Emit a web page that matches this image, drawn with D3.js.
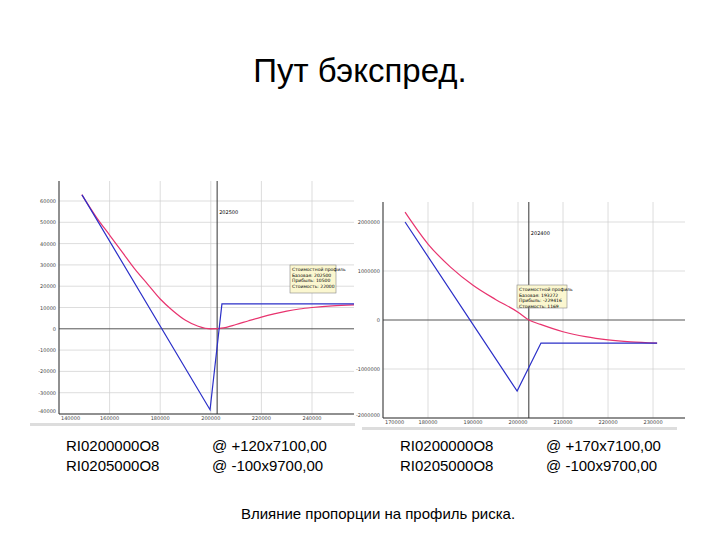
<!DOCTYPE html>
<html><head><meta charset="utf-8">
<script src="https://cdn.jsdelivr.net/npm/d3@7"></script>
<style>body{margin:0;background:#fff}svg{display:block}</style></head>
<body><svg id="c" width="720" height="540"></svg>
<script>
// Left chart data
const leftXTicks=[140000,160000,180000,200000,220000,240000];
const leftYTicks=[-40000,-30000,-20000,-10000,0,10000,20000,30000,40000,50000,60000];
const leftBlueX=[149100,199700,204400,256600];
const leftBlueY=[62900,-38000,11700,11700];
const leftRedX=[149000,155000,160000,165000,170000,175000,180000,185000,190000,195000,200000,205000,210000,215000,220000,225000,230000,235000,240000,248000,256600];
const leftRedY=[63000,52000,44000,36000,28000,21000,14000,8500,4000,1200,0,400,2000,3800,5500,7000,8300,9300,10000,10800,11200];
const leftSpot=202500;
// Right chart data
const rightXTicks=[170000,180000,190000,200000,210000,220000,230000];
const rightYTicks=[-2000000,-1000000,0,1000000,2000000];
const rightBlueX=[174900,199800,205100,230900];
const rightBlueY=[2000000,-1450000,-470000,-470000];
const rightRedX=[174900,180000,185000,190000,195000,200000,202400,205000,210000,215000,220000,225000,230900];
const rightRedY=[2200000,1550000,1080000,710000,420000,160000,0,-90000,-240000,-340000,-405000,-445000,-470000];
const rightSpot=202400;

const svg=d3.select("#c");
svg.append("text").attr("x",360).attr("y",82).attr("text-anchor","middle")
  .attr("font-family","Liberation Sans, Arial").attr("font-size",33).text("Пут бэкспред.");

function panel(o){
  const g=svg.append("g");
  const x=d3.scaleLinear().domain(o.xd).range(o.xr);
  const y=d3.scaleLinear().domain(o.yd).range(o.yr);
  g.append("rect").attr("x",o.box[0]).attr("y",o.box[1]).attr("width",o.box[2]).attr("height",o.box[3]).attr("fill","#fff");
  g.selectAll(".gx").data(o.xt).join("line").attr("x1",d=>x(d)).attr("x2",d=>x(d))
    .attr("y1",o.yr[1]-20).attr("y2",o.yr[0]).attr("stroke","#cfcfcf").attr("stroke-width",0.7);
  g.selectAll(".gy").data(o.yt).join("line").attr("y1",d=>y(d)).attr("y2",d=>y(d))
    .attr("x1",o.xr[0]).attr("x2",o.xr[1]).attr("stroke",d=>d===0?"#555":"#cfcfcf").attr("stroke-width",d=>d===0?1:0.7);
  g.append("line").attr("x1",o.xr[0]).attr("x2",o.xr[0]).attr("y1",o.yr[1]-20).attr("y2",o.yr[0]).attr("stroke","#333");
  g.append("line").attr("x1",o.xr[0]).attr("x2",o.xr[1]).attr("y1",o.yr[0]).attr("y2",o.yr[0]).attr("stroke","#333");
  g.selectAll(".ty").data(o.yt).join("text").attr("x",o.xr[0]-3).attr("y",(d,i)=>y(d)+(i===0?-1:2))
    .attr("text-anchor","end").attr("font-size",5).attr("font-family","DejaVu Sans").attr("fill","#444").text(d=>d);
  g.selectAll(".tx").data(o.xt).join("text").attr("x",(d,i)=>x(d)+(i===0?2:0)).attr("y",o.yr[0]+6)
    .attr("text-anchor",(d,i)=>i===0?"start":"middle").attr("font-size",5).attr("font-family","DejaVu Sans").attr("fill","#444").text(d=>d);
  g.append("line").attr("x1",x(o.spot)).attr("x2",x(o.spot)).attr("y1",o.yr[1]-20).attr("y2",o.yr[0]).attr("stroke","#333").attr("stroke-width",1);
  g.append("text").attr("x",x(o.spot)+2).attr("y",o.yr[1]+13).attr("font-size",5).attr("font-family","DejaVu Sans").text(o.spot);
  const line=d3.line().x(d=>x(d[0])).y(d=>y(d[1]));
  const smooth=d3.line().curve(d3.curveMonotoneX).x(d=>x(d[0])).y(d=>y(d[1]));
  g.append("path").attr("d",smooth(d3.zip(o.rx,o.ry))).attr("fill","none").attr("stroke","#e8336e").attr("stroke-width",1.2);
  g.append("path").attr("d",line(d3.zip(o.bx,o.by))).attr("fill","none").attr("stroke","#2b2fc8").attr("stroke-width",1.2);
  const t=o.tip;
  g.append("rect").attr("x",t[0]).attr("y",t[1]).attr("width",t[2]).attr("height",t[3]).attr("fill","#fbf7d0").attr("stroke","#888").attr("stroke-width",0.6);
  o.tipText.forEach((s,i)=>g.append("text").attr("x",t[0]+2).attr("y",t[1]+6+i*5.5).attr("font-size",4.5).attr("font-family","DejaVu Sans").text(s));
  g.append("rect").attr("x",o.box[0]).attr("y",o.yr[0]+9).attr("width",o.box[2]-10).attr("height",3).attr("fill","#ddd");
}
panel({xd:[140000,256600],xr:[59,354],yd:[-40000,60000],yr:[414,201],box:[30,180,335,250],
  xt:leftXTicks,yt:leftYTicks,spot:leftSpot,bx:leftBlueX,by:leftBlueY,rx:leftRedX,ry:leftRedY,
  tip:[290,265,46,28],tipText:["Стоимостной профиль","Базовая: 202500","Прибыль: 10500","Стоимость: 22000"]});
panel({xd:[170000,237100],xr:[383,685],yd:[-2000000,2000000],yr:[418,222],box:[362,178,325,252],
  xt:rightXTicks,yt:rightYTicks,spot:rightSpot,bx:rightBlueX,by:rightBlueY,rx:rightRedX,ry:rightRedY,
  tip:[517,285,50,23],tipText:["Стоимостной профиль","Базовая: 193272","Прибыль: -229416","Стоимость: 1169"]});

[[66,451,"RI0200000O8"],[66,471,"RI0205000O8"],[212,451,"@ +120x7100,00"],[212,471,"@ -100x9700,00"],
 [400,451,"RI0200000O8"],[400,471,"RI0205000O8"],[546,451,"@ +170x7100,00"],[546,471,"@ -100x9700,00"]]
 .forEach(d=>svg.append("text").attr("x",d[0]).attr("y",d[1]).attr("font-family","Liberation Sans, Arial").attr("font-size",15).text(d[2]));
svg.append("text").attr("x",378).attr("y",519).attr("text-anchor","middle").attr("font-family","Liberation Sans, Arial").attr("font-size",15)
  .text("Влияние пропорции на профиль риска.");
</script></body></html>
